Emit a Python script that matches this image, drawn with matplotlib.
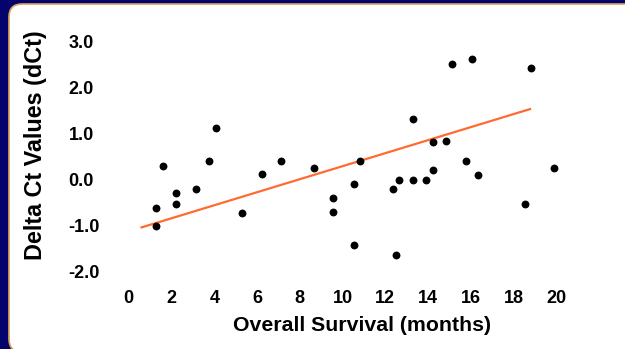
import matplotlib
matplotlib.use("Agg")
import matplotlib.pyplot as plt
from matplotlib.patches import FancyBboxPatch

# Survival (months) vs delta Ct
survival = [1.59, 4.06, 3.74, 2.21, 2.21, 3.14, 1.27, 1.27, 5.29, 6.22, 7.12,
            8.66, 10.83, 10.52, 9.57, 9.57, 10.52, 12.36, 12.65, 13.28, 13.89,
            14.21, 13.28, 14.21, 14.82, 12.50, 15.13, 16.05, 18.83, 15.76,
            16.35, 19.87, 18.52]
dct = [0.30, 1.11, 0.41, -0.30, -0.53, -0.21, -0.61, -1.02, -0.72, 0.11, 0.41,
       0.26, 0.41, -0.10, -0.41, -0.71, -1.43, -0.21, 0.0, 0.0, 0.0,
       0.20, 1.31, 0.81, 0.84, -1.65, 2.50, 2.62, 2.43, 0.41,
       0.10, 0.26, -0.53]

# trend line end points
fit_x = [0.60, 18.77]
fit_y = [-1.04, 1.53]

xticks = [0, 2, 4, 6, 8, 10, 12, 14, 16, 18, 20]
yticks = [3, 2, 1, 0, -1, -2]
ytick_labels = ['3.0', '2.0', '1.0', '0.0', '-1.0', '-2.0']

navy = '#04046c'
plt.rcParams['font.family'] = ['Liberation Sans', 'DejaVu Sans']

fig = plt.figure(figsize=(6.25, 3.49), dpi=100, facecolor=navy)

# white rounded panel (pixel coords)
panel = FancyBboxPatch((9, -3), 650, 348, boxstyle='round,pad=0,rounding_size=13',
                       transform=None, facecolor='white', edgecolor='#d9a35c',
                       linewidth=1.2, zorder=-5)
fig.patches.append(panel)

ax = fig.add_axes([0.1718, 0.1559, 0.7526, 0.7914])
ax.set_facecolor('none')
ax.set_xlim(-1, 21)
ax.set_ylim(-2.5, 3.5)

ax.scatter(survival, dct, s=32, color='black', zorder=3, linewidths=0)
ax.plot(fit_x, fit_y, color='#ff6a30', linewidth=1.6, zorder=2)

for s in ax.spines.values():
    s.set_visible(False)

ax.set_xticks(xticks)
ax.set_xticklabels([str(t) for t in xticks], fontsize=13, fontweight='bold')
ax.set_yticks(yticks)
ax.set_yticklabels(ytick_labels, fontsize=13, fontweight='bold', ha='left')
ax.tick_params(axis='x', length=0, pad=-3)
ax.tick_params(axis='y', length=0, pad=28)

ax.set_xlabel('Overall Survival (months)', fontsize=15.3, fontweight='bold')
ax.set_ylabel('Delta Ct Values (dCt)', fontsize=16.8, fontweight='bold')
ax.xaxis.set_label_coords(0.541, -0.0775)
ax.yaxis.set_label_coords(-0.128, 0.5416)

fig.savefig('out.png', dpi=100, facecolor=navy)
